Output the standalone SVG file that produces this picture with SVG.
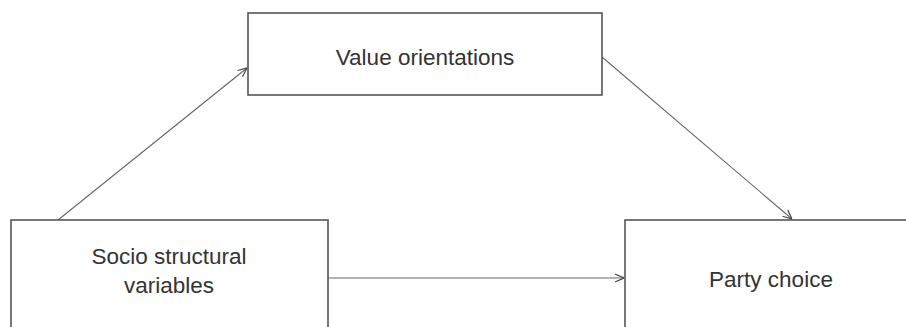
<svg xmlns="http://www.w3.org/2000/svg" width="906" height="327" viewBox="0 0 906 327">
<style>
.box{fill:#fff;stroke:#555;stroke-width:1.6}
.lbl{font-family:"Liberation Sans",Arial,sans-serif;font-size:22.5px;fill:#333;text-anchor:middle}
.conn{stroke:#666;stroke-width:1.1;fill:none;marker-end:url(#arr)}
</style>
<defs>
<marker id="arr" viewBox="0 0 10 10" refX="10" refY="5" markerWidth="10" markerHeight="10" markerUnits="userSpaceOnUse" orient="auto">
<path d="M1,1 L10,5 L1,9" fill="none" stroke="#444" stroke-width="1.2"/>
</marker>
</defs>
<rect width="906" height="327" fill="#fff"/>
<g id="connectors">
<line class="conn" x1="58" y1="220" x2="247" y2="68"/>
<line class="conn" x1="602" y1="57" x2="792" y2="219"/>
<line class="conn" x1="328" y1="278" x2="624" y2="278"/>
</g>
<g id="value">
<rect class="box" x="248" y="13" width="354" height="82"/>
<text class="lbl" x="425" y="65">Value orientations</text>
</g>
<g id="socio">
<rect class="box" x="11" y="220" width="317" height="115"/>
<text class="lbl" x="169" y="264">Socio structural</text>
<text class="lbl" x="169" y="293">variables</text>
</g>
<g id="party">
<rect class="box" x="625" y="220" width="295" height="115"/>
<text class="lbl" x="771" y="287">Party choice</text>
</g>
</svg>
